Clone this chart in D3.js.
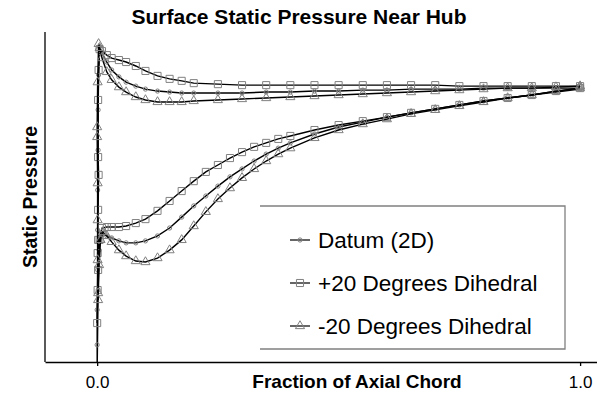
<!DOCTYPE html>
<html>
<head>
<meta charset="utf-8">
<script src="https://cdn.jsdelivr.net/npm/d3@7"></script>
<style>
  body { margin: 0; background: #fff; }
  text { font-family: Arial, "Liberation Sans", sans-serif; }
</style>
</head>
<body>
<svg id="chart"></svg>
<script>
// series names, in legend order
var seriesNames = ['Datum (2D)', '+20 Degrees Dihedral', '-20 Degrees Dihedral'];
var tickValues = [0, 1];
var tickLabels = ['0.0', '1.0'];

// each series is a closed loop: pressure side TE -> LE, down the LE spike, suction side LE -> TE
var datumX = [1.0, 0.95, 0.9, 0.85, 0.8, 0.75, 0.7, 0.65, 0.6, 0.55, 0.5, 0.45, 0.4, 0.35, 0.3, 0.25, 0.2, 0.175, 0.15, 0.125, 0.1, 0.08, 0.06, 0.045, 0.03, 0.02, 0.01, 0.005,
  0.003, 0.002, 0.002, 0.001, 0.001, 0.001, 0.0, 0.0, 0.0,
  0.002, 0.004, 0.008,
  0.02, 0.03, 0.045, 0.06, 0.08, 0.1, 0.125, 0.15, 0.175, 0.2, 0.225, 0.25, 0.275, 0.3, 0.325, 0.35, 0.375, 0.4, 0.45, 0.5, 0.55, 0.6, 0.65, 0.7, 0.75, 0.8, 0.85, 0.9, 0.95, 1.0];
var datumY = [0.830, 0.830, 0.830, 0.830, 0.830, 0.827, 0.827, 0.827, 0.824, 0.824, 0.821, 0.821, 0.818, 0.818, 0.815, 0.815, 0.815, 0.815, 0.818, 0.821, 0.827, 0.836, 0.848, 0.864, 0.885, 0.909, 0.936, 0.955,
  0.870, 0.764, 0.642, 0.521, 0.400, 0.279, 0.158, 0.052, -0.03,
  0.218, 0.339, 0.388,
  0.382, 0.376, 0.367, 0.361, 0.361, 0.367, 0.382, 0.406, 0.439, 0.473, 0.503, 0.533, 0.561, 0.585, 0.609, 0.630, 0.648, 0.664, 0.691, 0.712, 0.727, 0.742, 0.755, 0.767, 0.779, 0.791, 0.800, 0.809, 0.818, 0.827];

var plusX = [1.0, 0.95, 0.9, 0.85, 0.8, 0.75, 0.7, 0.65, 0.6, 0.55, 0.5, 0.45, 0.4, 0.35, 0.3, 0.25, 0.2, 0.175, 0.15, 0.125, 0.1, 0.08, 0.06, 0.045, 0.03, 0.02, 0.01, 0.005,
  0.003, 0.002, 0.002, 0.003, 0.002, 0.002, 0.001, 0.001, 0.0,
  0.002, 0.005, 0.01,
  0.02, 0.03, 0.045, 0.06, 0.08, 0.1, 0.125, 0.15, 0.175, 0.2, 0.225, 0.25, 0.275, 0.3, 0.325, 0.35, 0.375, 0.4, 0.45, 0.5, 0.55, 0.6, 0.65, 0.7, 0.75, 0.8, 0.85, 0.9, 0.95, 1.0];
var plusY = [0.836, 0.836, 0.836, 0.836, 0.836, 0.836, 0.839, 0.839, 0.839, 0.839, 0.839, 0.839, 0.839, 0.839, 0.839, 0.842, 0.845, 0.852, 0.858, 0.867, 0.882, 0.897, 0.909, 0.915, 0.921, 0.930, 0.942, 0.948,
  0.885, 0.794, 0.621, 0.567, 0.461, 0.370, 0.330, 0.218, 0.118,
  0.279, 0.370, 0.406,
  0.409, 0.409, 0.409, 0.412, 0.421, 0.433, 0.458, 0.488, 0.518, 0.548, 0.576, 0.597, 0.618, 0.636, 0.652, 0.664, 0.676, 0.685, 0.703, 0.718, 0.730, 0.742, 0.755, 0.767, 0.779, 0.791, 0.800, 0.809, 0.821, 0.830];

var minusX = [1.0, 0.95, 0.9, 0.85, 0.8, 0.75, 0.7, 0.65, 0.6, 0.55, 0.5, 0.45, 0.4, 0.35, 0.3, 0.25, 0.2, 0.175, 0.15, 0.125, 0.1, 0.08, 0.06, 0.045, 0.03, 0.02, 0.01, 0.005, 0.003,
  0.001, 0.0, 0.0, 0.001, 0.001, 0.001, 0.002, 0.002,
  0.004, 0.007, 0.012,
  0.02, 0.03, 0.045, 0.06, 0.08, 0.1, 0.125, 0.15, 0.175, 0.2, 0.225, 0.25, 0.275, 0.3, 0.325, 0.35, 0.375, 0.4, 0.45, 0.5, 0.55, 0.6, 0.65, 0.7, 0.75, 0.8, 0.85, 0.9, 0.95, 1.0];
var minusY = [0.836, 0.833, 0.830, 0.830, 0.827, 0.824, 0.821, 0.818, 0.815, 0.812, 0.809, 0.806, 0.803, 0.800, 0.797, 0.794, 0.791, 0.788, 0.788, 0.788, 0.794, 0.803, 0.818, 0.833, 0.855, 0.879, 0.921, 0.952, 0.964,
  0.848, 0.712, 0.682, 0.542, 0.430, 0.309, 0.209, 0.188,
  0.294, 0.370, 0.394,
  0.382, 0.364, 0.339, 0.321, 0.306, 0.303, 0.315, 0.339, 0.370, 0.412, 0.455, 0.494, 0.527, 0.558, 0.585, 0.609, 0.630, 0.648, 0.679, 0.703, 0.721, 0.736, 0.752, 0.764, 0.776, 0.788, 0.800, 0.809, 0.821, 0.830];

function drawChart() {
  var width = 597, height = 394;
  var chart = d3.select('#chart')
    .attr('width', width)
    .attr('height', height);

  var x = d3.scaleLinear().domain([-0.108, 1.035]).range([45, 597]);
  var y = d3.scaleLinear().domain([0, 1]).range([362, 32]);

  var series = [
    { name: seriesNames[0], xs: datumX, ys: datumY, symbol: d3.symbolCircle, size: 14 },
    { name: seriesNames[1], xs: plusX, ys: plusY, symbol: d3.symbolSquare, size: 50 },
    { name: seriesNames[2], xs: minusX, ys: minusY, symbol: d3.symbolTriangle, size: 36 }
  ];
  series.forEach(s => { s.points = s.xs.map((v, i) => [v, s.ys[i]]); });

  // keep the curves inside the plot area
  chart.append('clipPath').attr('id', 'plotclip')
    .append('rect')
    .attr('x', x.range()[0]).attr('y', 0)
    .attr('width', width).attr('height', y(0));

  // axes
  chart.append('line')
    .attr('x1', x.range()[0]).attr('x2', x.range()[0])
    .attr('y1', y(1)).attr('y2', y(0))
    .attr('stroke', '#000').attr('stroke-width', 1.3);

  var xAxis = d3.axisBottom(x)
    .tickValues(tickValues)
    .tickFormat((d, i) => tickLabels[i])
    .tickSizeInner(4)
    .tickSizeOuter(0)
    .tickPadding(10);
  var gx = chart.append('g')
    .attr('transform', `translate(0, ${y(0)})`)
    .call(xAxis);
  gx.select('.domain').attr('stroke', '#000').attr('stroke-width', 1.3);
  gx.selectAll('.tick line').attr('stroke', '#000').attr('stroke-width', 1.3);
  gx.selectAll('.tick text')
    .attr('fill', '#000')
    .style('font-size', '17px')
    .style('font-family', 'Arial, "Liberation Sans", sans-serif');

  var line = d3.line()
    .x(d => x(d[0]))
    .y(d => y(d[1]));

  // curves and markers
  var plot = chart.append('g').attr('clip-path', 'url(#plotclip)');
  series.forEach(s => {
    plot.append('path')
      .attr('d', line(s.points))
      .attr('fill', 'none')
      .attr('stroke', '#000')
      .attr('stroke-width', 1.4);
    plot.selectAll(null)
      .data(s.points).enter()
      .append('path')
      .attr('d', d3.symbol().type(s.symbol).size(s.size))
      .attr('transform', d => `translate(${x(d[0])}, ${y(d[1])})`)
      .attr('fill', 'none')
      .attr('stroke', '#808080')
      .attr('stroke-width', 1);
  });

  // titles
  chart.append('text')
    .attr('x', 299).attr('y', 24)
    .attr('text-anchor', 'middle')
    .style('font-size', '21px').style('font-weight', 'bold')
    .text('Surface Static Pressure Near Hub');

  chart.append('text')
    .attr('x', 357).attr('y', 388)
    .attr('text-anchor', 'middle')
    .style('font-size', '19px').style('font-weight', 'bold')
    .text('Fraction of Axial Chord');

  chart.append('text')
    .attr('transform', 'translate(37, 197) rotate(-90)')
    .attr('text-anchor', 'middle')
    .style('font-size', '19.5px').style('font-weight', 'bold')
    .text('Static Pressure');

  // legend
  var lg = chart.append('g').attr('transform', 'translate(260, 206)');
  lg.append('rect')
    .attr('width', 305).attr('height', 143)
    .attr('fill', '#fff');
  lg.append('path')
    .attr('d', 'M0,0 H305 V143 H0')
    .attr('fill', 'none')
    .attr('stroke', '#808080')
    .attr('stroke-width', 1.3);

  var rows = lg.selectAll('g.row')
    .data(series).enter()
    .append('g')
    .attr('class', 'row')
    .attr('transform', (d, i) => `translate(0, ${34 + i * 43})`);
  rows.append('line')
    .attr('x1', 30).attr('x2', 50)
    .attr('stroke', '#000').attr('stroke-width', 1.2);
  rows.append('path')
    .attr('d', d => d3.symbol().type(d.symbol).size(d.size)())
    .attr('transform', 'translate(40, 0)')
    .attr('fill', 'none')
    .attr('stroke', '#808080');
  rows.append('text')
    .attr('x', 58).attr('y', 8)
    .style('font-size', '22.5px')
    .text(d => d.name);
}

drawChart();
</script>
</body>
</html>
